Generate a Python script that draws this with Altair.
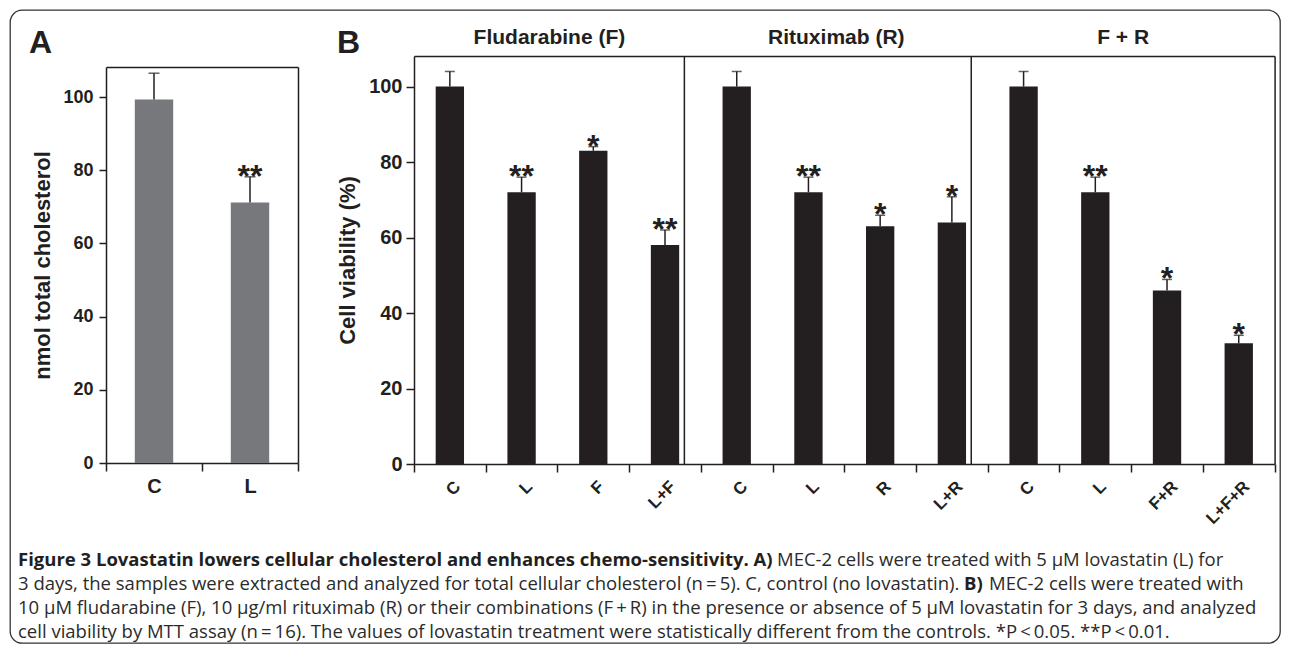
import altair as alt
import pandas as pd

# ---------------- data ----------------
a_groups = ["C", "L"]
a_values = [99.3, 71.2]
a_errors = [7.2, 7.0]
a_stars = ["", "**"]
a_yticks = [0, 20, 40, 60, 80, 100]

b_sections = ["Fludarabine (F)", "Rituximab (R)", "F + R"]
b_section_keys = ["F", "R", "FR"]
b_labels = [["C", "L", "F", "L+F"], ["C", "L", "R", "L+R"], ["C", "L", "F+R", "L+F+R"]]
b_values = [[100, 72, 83, 58], [100, 72, 63, 64], [100, 72, 46, 32]]
b_errors = [[4, 4, 1.1, 4], [4, 4, 2.9, 6.8], [4, 4, 2.9, 2.1]]
b_stars = [["", "**", "*", "**"], ["", "**", "*", "*"], ["", "**", "*", "*"]]
b_yticks = [0, 20, 40, 60, 80, 100]

caption_l1_bold = "Figure 3 Lovastatin lowers cellular cholesterol and enhances chemo-sensitivity. A)"
caption_l1_reg = "MEC-2 cells were treated with 5 \u00b5M lovastatin (L) for"
caption_l2_reg = "3 days, the samples were extracted and analyzed for total cellular cholesterol (n\u2009=\u20095). C, control (no lovastatin)."
caption_l2_bold = "B)"
caption_l2_reg2 = "MEC-2 cells were treated with"
caption_l3 = ("10 \u00b5M fludarabine (F), 10 \u00b5g/ml rituximab (R) or their combinations (F\u2009+\u2009R) in the presence "
              "or absence of 5 \u00b5M lovastatin for 3 days, and analyzed")
caption_l4 = ("cell viability by MTT assay (n\u2009=\u200916). The values of lovastatin treatment were statistically "
              "different from the controls. *P\u2009<\u20090.05. **P\u2009<\u20090.01.")

# ---------------- tables ----------------
dfA = pd.DataFrame({"group": a_groups, "val": a_values, "err": a_errors, "star": a_stars})
dfA["top"] = dfA["val"] + dfA["err"]

rows = []
for s, sk in enumerate(b_section_keys):
    for i, lab in enumerate(b_labels[s]):
        rows.append({"key": f"{sk}|{lab}", "label": lab, "val": b_values[s][i],
                     "err": b_errors[s][i], "star": b_stars[s][i]})
dfB = pd.DataFrame(rows)
dfB["top"] = dfB["val"] + dfB["err"]
b_keys = list(dfB["key"])

sepB = pd.DataFrame({"key": [f"{b_section_keys[s]}|{b_labels[s][-1]}" for s in range(2)]})
titB = pd.DataFrame({"key": [f"{b_section_keys[s]}|{b_labels[s][1]}" for s in range(3)],
                     "title": b_sections})

# ---------------- style ----------------
INK = "#231f20"
GRAY = "#77787b"
FONT = "Liberation Sans"
CAPF = "Open Sans"
CAPS = 18.5
W, H = 1270, 633

ax = dict(domainColor=INK, domainWidth=1.5, tickColor=INK, tickWidth=1.5, labelColor=INK,
          labelFont=FONT, labelFontWeight="bold", titleColor=INK, titleFont=FONT,
          titleFontWeight="bold", grid=False)

# panel A scales/axes
xsA = alt.Scale(domain=a_groups, range=[96, 288], paddingInner=0, paddingOuter=0)
ysA = alt.Scale(domain=[0, 108.2], range=[453, 57], nice=False)
axA_b = alt.Axis(orient="bottom", offset=453 - H, tickBand="extent", tickSize=8, labelFontSize=20,
                 labelAngle=0, labelPadding=5, title=None, **ax)
axA_l = alt.Axis(orient="left", offset=-96, values=a_yticks, tickSize=7, labelFontSize=18,
                 labelPadding=6, title="nmol total cholesterol", titleFontSize=22, titleX=-63.5,
                 titleBaseline="middle", **ax)
axA_t = alt.Axis(orient="top", offset=-57, labels=False, ticks=False, title=None, **ax)
axA_r = alt.Axis(orient="right", offset=288 - W, labels=False, ticks=False, title=None, **ax)

# panel B scales/axes
xsB = alt.Scale(domain=b_keys, range=[404, 1264.6], paddingInner=0, paddingOuter=0)
ysB = alt.Scale(domain=[0, 108.1], range=[454, 46], nice=False)
axB_b = alt.Axis(orient="bottom", offset=454 - H, tickBand="extent", tickSize=8, labelFontSize=17,
                 labelAngle=315, labelAlign="right", labelBaseline="top", labelPadding=6,
                 labelOffset=2, labelExpr="split(datum.value, '|')[1]", title=None, **ax)
axB_l = alt.Axis(orient="left", offset=-404, values=b_yticks, tickSize=8, labelFontSize=20,
                 labelPadding=4, title="Cell viability (%)", titleFontSize=22, titleX=-67,
                 titleBaseline="middle", **ax)
axB_t = alt.Axis(orient="top", offset=-46, labels=False, ticks=False, title=None, **ax)
axB_r = alt.Axis(orient="right", offset=1264.6 - W, labels=False, ticks=False, title=None, **ax)

# ---------------- panel A ----------------
baseA = alt.Chart(dfA)
barsA = baseA.mark_bar(width=alt.RelativeBandSize(0.4), color=GRAY).encode(
    x=alt.X("group:N", scale=xsA, axis=axA_b),
    y=alt.Y("val:Q", scale=ysA, axis=axA_l))
errA = baseA.mark_rule(color=INK, strokeWidth=1.5).encode(
    x=alt.X("group:N", scale=xsA, axis=axA_t),
    y=alt.Y("val:Q", scale=ysA, axis=axA_r), y2="top:Q")
capA = baseA.mark_tick(color=INK, size=11, thickness=1.5).encode(
    x=alt.X("group:N", scale=xsA, axis=None),
    y=alt.Y("top:Q", scale=ysA, axis=None))
starA = baseA.mark_text(font=FONT, fontWeight="bold", fontSize=32, color=INK, dy=10,
                        baseline="alphabetic").encode(
    x=alt.X("group:N", scale=xsA, axis=None),
    y=alt.Y("top:Q", scale=ysA, axis=None), text="star:N")
panelA = alt.layer(barsA, errA, capA, starA).resolve_axis(x="independent", y="independent")

# ---------------- panel B ----------------
baseB = alt.Chart(dfB)
barsB = baseB.mark_bar(width=alt.RelativeBandSize(0.395), color=INK).encode(
    x=alt.X("key:N", scale=xsB, axis=axB_b),
    y=alt.Y("val:Q", scale=ysB, axis=axB_l))
errB = baseB.mark_rule(color=INK, strokeWidth=1.5).encode(
    x=alt.X("key:N", scale=xsB, axis=axB_t),
    y=alt.Y("val:Q", scale=ysB, axis=axB_r), y2="top:Q")
capB = baseB.mark_tick(color=INK, size=10, thickness=1.5).encode(
    x=alt.X("key:N", scale=xsB, axis=None),
    y=alt.Y("top:Q", scale=ysB, axis=None))
starB = baseB.mark_text(font=FONT, fontWeight="bold", fontSize=32, color=INK, dy=10,
                        baseline="alphabetic").encode(
    x=alt.X("key:N", scale=xsB, axis=None),
    y=alt.Y("top:Q", scale=ysB, axis=None), text="star:N")
sepLines = alt.Chart(sepB).mark_rule(color=INK, strokeWidth=1.5).encode(
    x=alt.X("key:N", scale=xsB, axis=None, bandPosition=0.77),
    y=alt.Y(datum=0, scale=ysB, axis=None), y2=alt.Y2(datum=108.1))
secTitles = alt.Chart(titB).mark_text(font=FONT, fontWeight="bold", fontSize=21, color=INK,
                                      baseline="alphabetic", align="center", dx=-8).encode(
    x=alt.X("key:N", scale=xsB, axis=None, bandPosition=1),
    y=alt.value(34), text="title:N")
panelB = alt.layer(barsB, errB, capB, starB, sepLines, secTitles).resolve_axis(
    x="independent", y="independent")

# ---------------- labels & caption ----------------
def txt(s, x, y, size, weight="normal", font=FONT, color=INK):
    return alt.Chart(pd.DataFrame({"t": [s]})).mark_text(
        font=font, fontSize=size, fontWeight=weight, color=color,
        align="left", baseline="alphabetic").encode(
        x=alt.value(x), y=alt.value(y), text="t:N")

CAPC = "#2b2b2b"
texts = [
    txt("A", 19, 43, 32, "bold"),
    txt("B", 327, 43, 32, "bold"),
    txt(caption_l1_bold, 8, 556, CAPS, "bold", CAPF, INK),
    txt(caption_l1_reg, 767, 556, CAPS, "normal", CAPF, CAPC),
    txt(caption_l2_reg, 8, 580, CAPS, "normal", CAPF, CAPC),
    txt(caption_l2_bold, 954, 580, CAPS, "bold", CAPF, INK),
    txt(caption_l2_reg2, 979, 580, CAPS, "normal", CAPF, CAPC),
    txt(caption_l3, 8, 604, CAPS, "normal", CAPF, CAPC),
    txt(caption_l4, 8, 628, CAPS, "normal", CAPF, CAPC),
]

chart = alt.layer(panelA, panelB, *texts).resolve_scale(
    x="independent", y="independent").resolve_axis(x="independent", y="independent").properties(
    width=W, height=H, padding=2, autosize=alt.AutoSizeParams(type="none"),
    background="white").configure_view(stroke="#333333", strokeWidth=1.3, cornerRadius=12)

chart.save("out.html", embed_options={"renderer": "svg", "actions": False})
